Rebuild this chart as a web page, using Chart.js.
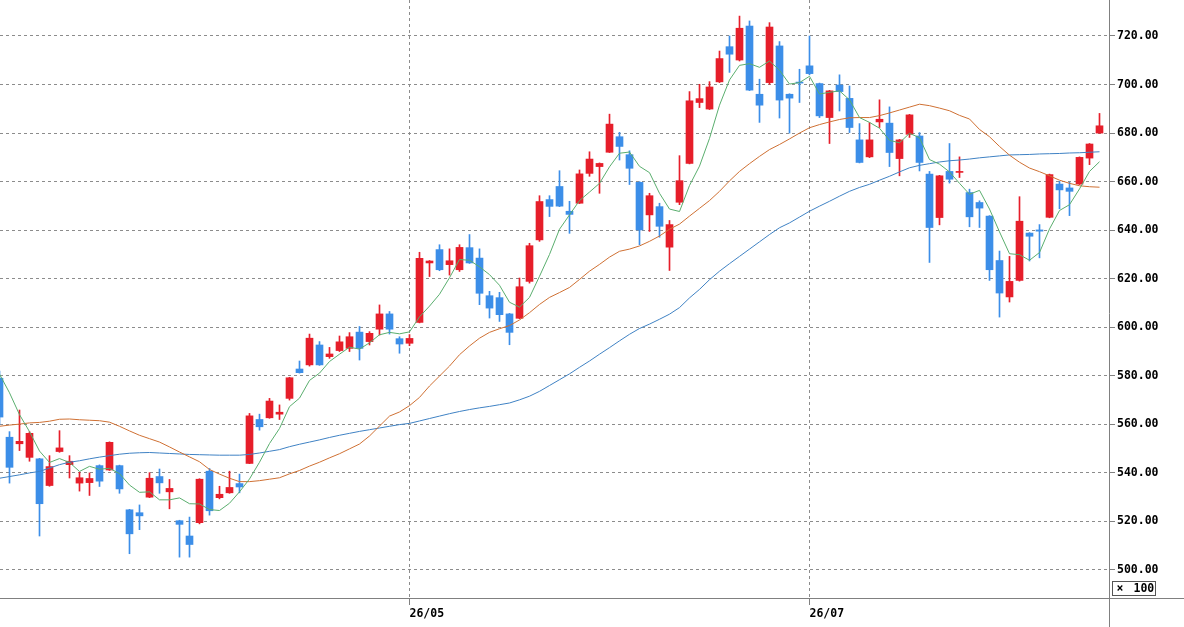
<!DOCTYPE html>
<html>
<head>
<meta charset="utf-8">
<script src="https://cdn.jsdelivr.net/npm/chart.js@4.4.1/dist/chart.umd.min.js"></script>
<style>
  html, body { margin: 0; padding: 0; background: #fff; }
  #wrap { width: 1184px; height: 627px; position: relative; }
</style>
</head>
<body>
<div id="wrap"><canvas id="chart"></canvas></div>
<script>
// daily candles, oldest first
const opens = [
  579, 554.7, 552, 546.4, 545.8, 534.8, 548.8, 543.4, 535.8, 536,
  543, 541.2, 543, 524.8, 523.6, 530, 538.5, 532.2, 520.3, 514,
  519.5, 540.7, 529.8, 531.8, 535.6, 543.9, 562, 562.7, 564.2, 570.7,
  582.8, 584.5, 592.7, 587.9, 590.4, 591.3, 598, 594.1, 599.2, 605.5,
  595.3, 593.4, 602, 626.5, 632, 625.8, 623.7, 632.8, 628.5, 613,
  612.2, 605.5, 603.7, 618.9, 636, 652.6, 658, 647.8, 651.1, 663.4,
  666.2, 672.1, 678.5, 671.1, 659.7, 646.3, 649.7, 633, 651.5, 667.5,
  692.6, 689.9, 701.1, 715.6, 710.1, 724.1, 696, 700.8, 715.9, 696,
  701, 707.7, 700.4, 686.4, 699.8, 694.3, 677.2, 670.2, 684.6, 684.1,
  669.5, 679.5, 678.8, 663.1, 645.2, 664.2, 663.8, 655.5, 651.4, 645.8,
  627.5, 612.5, 619.3, 638.8, 640.1, 645.3, 659, 657.4, 659, 669.7,
  680
];
const highs = [
  582, 557, 565.9, 557, 546, 547.1, 557.4, 547.1, 540.3, 540,
  543.3, 552.8, 543.2, 525, 526.8, 540.1, 541.6, 537.3, 520.5, 521.8,
  537.6, 541.8, 534.5, 540.7, 539.5, 564.5, 564.2, 570.7, 568, 579.4,
  586.1, 597.2, 594.1, 591.7, 596.4, 597.8, 600.3, 598.2, 609.2, 606.5,
  596.1, 597, 630.9, 627.5, 634, 632.3, 634, 638.2, 632.3, 614.8,
  614.4, 605.7, 620.3, 634.6, 654.2, 654.2, 664.5, 651.9, 664.8, 672.3,
  667.7, 687.8, 680.3, 672.7, 660, 655.2, 651.1, 644, 670.7, 697.1,
  700.1, 701.2, 713.8, 720, 728.2, 726.2, 702.2, 725.5, 717.7, 696.2,
  706.3, 720, 700.6, 697.6, 704, 699.4, 683.9, 684.3, 693.7, 690.8,
  677.4, 687.7, 680.2, 664.2, 662.6, 675.7, 670.2, 656.9, 652.1, 646,
  631.4, 629.2, 653.8, 639, 642.3, 663.1, 660.1, 659.7, 670.2, 675.7,
  688.1
];
const lows = [
  560, 535.8, 549.2, 544.8, 514, 534.5, 548.5, 537.9, 532.5, 530.7,
  534.4, 541, 531.6, 506.7, 516.6, 529.8, 531.6, 525.2, 505.3, 505.3,
  519, 522.6, 529.3, 531.6, 531.8, 543.8, 557.6, 562.5, 562, 570,
  581.1, 584, 584.3, 587.2, 590, 590, 586.5, 592.7, 596.8, 597.2,
  589.3, 592.4, 601.8, 620.9, 623.3, 621.5, 623, 626.3, 609.3, 603.8,
  602.4, 592.8, 603.5, 618.2, 635.4, 645.6, 649.7, 638.7, 651, 662.2,
  655.2, 672, 668.9, 658.8, 634, 639.5, 637.1, 623.4, 650.5, 667.3,
  690.5, 689.7, 700.8, 705, 709.7, 697.5, 684.4, 700.1, 686.2, 680,
  692.6, 704, 686.4, 675.7, 689.1, 680.2, 667.7, 669.9, 682.3, 666.2,
  662.4, 678.2, 664.4, 626.7, 642.2, 659.4, 661.7, 641.4, 641.1, 619.3,
  604.2, 610.4, 619, 627.3, 628.6, 645.1, 648.8, 646, 658.8, 667,
  679.9
];
const closes = [
  563, 542.3, 553, 556.3, 527.3, 542.6, 550.3, 544.8, 538, 537.7,
  536.6, 552.6, 533.4, 514.9, 522.3, 537.8, 535.9, 533.6, 518.8, 510.5,
  537.4, 524.4, 531.2, 534, 534.2, 563.5, 559, 569.6, 565, 579.2,
  581.3, 595.5, 584.5, 589, 594, 596.1, 591.3, 597.5, 605.5, 599.2,
  593.1, 595.4, 628.4, 627.3, 623.7, 627.4, 632.9, 626.5, 614, 607.9,
  605.2, 597.9, 616.7, 633.6, 651.8, 649.8, 649.9, 646.5, 663.2, 669.3,
  667.5, 683.7, 674.5, 665.5, 640.1, 654.2, 641.6, 642.3, 660.4, 693.3,
  694.2, 699, 710.7, 712.5, 723.2, 697.7, 691.5, 723.7, 693.6, 694.4,
  700.6, 704.5, 687.1, 697.4, 697.1, 682.3, 667.9, 677.2, 685.7, 672,
  677.2, 687.5, 667.9, 641.1, 662.4, 661, 664.2, 645.5, 649.1, 623.7,
  614.1, 618.9, 643.7, 637.5, 639.6, 662.9, 656.6, 656, 670, 675.5,
  683
];

// moving averages
const ma5 = [
  580.7, 573, 564, 557, 549, 544.3, 545.9, 544.3, 540.6, 542.7,
  541.5, 541.9, 539.7, 535, 532, 532.2, 528.9, 528.9, 529.7, 527.3,
  527.2, 524.9, 524.5, 527.5, 532.2, 537.5, 544.4, 552.1, 558.3, 567.3,
  570.8, 578.1, 581.1, 585.9, 588.9, 591.8, 591, 593.6, 596.9, 597.9,
  597.3, 598.1, 604.3, 608.7, 613.6, 620.4, 627.9, 627.6, 624.9, 621.7,
  617.3, 610.3, 608.3, 612.3, 621, 630, 640.4, 646.3, 652.2, 655.7,
  659.3, 666.1, 671.7, 672.2, 666.3, 663.7, 655.2, 648.7, 647.7, 658.4,
  666.4, 677.8, 691.5, 701.9, 707.9, 708.6, 707.1, 709.7, 705.9, 700.2,
  700.8, 703.4, 696.1, 696.8, 697.4, 693.7, 686.4, 684.4, 682, 677,
  676, 679.9, 678.1, 669.1, 667.2, 664, 659.3, 654.8, 656.4, 648.7,
  639.3, 630.3, 629.9, 627.6, 630.8, 640.5, 648.1, 650.5, 657, 664.2,
  668.2
];
const ma25 = [
  559.2, 559.7, 560.1, 560.6, 560.8, 561.3, 562.1, 562.2, 561.9, 561.7,
  561.5, 560.9, 559.2, 557.3, 555.5, 554.1, 552.7, 550.7, 548.6, 546.6,
  544.6, 541.4, 539.5, 537.8, 536.4, 536.4, 536.8, 537.4, 538, 539.6,
  541, 542.8, 544.4, 546.2, 547.9, 549.9, 551.9, 555.2, 559.3, 563.4,
  565.1, 567.7, 571.1, 575.8, 579.9, 584, 588.7, 592.3, 595.5, 597.9,
  599.4, 600.7, 603, 606, 609.4, 612.3, 614.3, 616.4, 619.7, 623.1,
  625.9, 628.9, 631.3, 632.2, 633.5, 635.4, 637.6, 640.4, 642.5, 645.8,
  649, 652.2, 656, 660.3, 664.2, 667.4, 670.4, 673.2, 675.3, 677.6,
  680, 682.2, 683.5, 684.6, 685.6, 686.3, 686.4, 686.4, 687.2, 688.3,
  689.5, 690.7, 691.9, 691.3, 690.3, 689.2, 687.3, 685.8, 681.5, 678.5,
  674.5, 670.9, 668, 665.6, 664.1, 662.4, 660.6, 659.3, 658.3, 657.9,
  657.7
];
const ma75 = [
  537.8, 538.5, 539.2, 540, 540.6, 542, 543.4, 544.4, 545, 545.8,
  546.5, 547.1, 547.7, 548.1, 548.3, 548.4, 548.2, 548, 547.8, 547.6,
  547.5, 547.4, 547.3, 547.3, 547.3, 547.6, 548.2, 548.9, 549.6, 550.8,
  551.8, 552.7, 553.6, 554.6, 555.5, 556.3, 557.1, 557.8, 558.5, 559.2,
  559.9, 560.4, 561.4, 562.4, 563.4, 564.4, 565.3, 566.1, 566.8, 567.4,
  568.1, 568.8, 570.1, 571.6, 573.6, 576, 578.4, 580.8, 583.5, 586.1,
  588.9, 591.6, 594.4, 597.1, 599.5, 601.3, 603.3, 605.4, 608.1, 612.1,
  615.6, 619.6, 623.1, 626.2, 629.2, 632.2, 635.2, 638.2, 641, 643,
  645.4, 647.8, 649.9, 651.9, 654, 656, 657.6, 658.9, 660.6, 662.2,
  664, 665.7, 666.7, 667.4, 668.1, 668.6, 668.9, 669.3, 669.8, 670.2,
  670.6, 671, 671.1, 671.2, 671.4, 671.5, 671.6, 671.8, 671.9, 672.1,
  672.3
];

// axis ticks
const monthTickIndex = [41, 81];
const monthTickLabels = ["26/05", "26/07"];
const priceTicks = [500, 520, 540, 560, 580, 600, 620, 640, 660, 680, 700, 720];

const RED = "#e61e2a";
const BLUE = "#3c8ee8";
const GRID = "#8c8c8c";
const AXIS = "#808080";
const labelFont = { family: "'DejaVu Sans Mono', monospace", size: 11.5, weight: "bold" };

const candleColors = closes.map((c, i) => c >= opens[i] ? RED : BLUE);
const asPoints = arr => arr.map((v, i) => ({ x: i, y: v }));

// axis lines that run past the plot area, plus the "x 100" unit box
const axisFrame = {
  id: "axisFrame",
  afterDraw(chart) {
    const { ctx, chartArea, width, height } = chart;
    ctx.save();
    ctx.strokeStyle = AXIS;
    ctx.lineWidth = 1;
    ctx.beginPath();
    ctx.moveTo(chartArea.right + 0.5, 0);
    ctx.lineTo(chartArea.right + 0.5, height);
    ctx.moveTo(0, chartArea.bottom + 0.5);
    ctx.lineTo(width, chartArea.bottom + 0.5);
    ctx.stroke();

    const bx = chartArea.right + 3.5, by = chartArea.bottom - 16.5;
    ctx.strokeStyle = "#555";
    ctx.strokeRect(bx, by, 43, 14);
    ctx.fillStyle = "#000";
    ctx.font = "bold 11.5px 'DejaVu Sans Mono', monospace";
    ctx.textBaseline = "middle";
    ctx.textAlign = "left";
    ctx.fillText("\u00d7", bx + 4, by + 7.5);
    ctx.fillText("100", bx + 21, by + 7.5);
    ctx.restore();
  }
};

new Chart(document.getElementById("chart"), {
  type: "bar",
  data: {
    datasets: [
      { type: "line", label: "MA5", data: asPoints(ma5), borderColor: "#5aae6e",
        borderWidth: 1, pointRadius: 0, tension: 0, order: 0 },
      { type: "line", label: "MA25", data: asPoints(ma25), borderColor: "#cf7033",
        borderWidth: 1, pointRadius: 0, tension: 0, order: 0 },
      { type: "line", label: "MA75", data: asPoints(ma75), borderColor: "#3f82c4",
        borderWidth: 1, pointRadius: 0, tension: 0, order: 0 },
      { label: "body", data: opens.map((o, i) => ({ x: i, y: [o, closes[i]] })),
        backgroundColor: candleColors, barThickness: 7, grouped: false,
        minBarLength: 1, borderWidth: 0, order: 1 },
      { label: "wick", data: lows.map((l, i) => ({ x: i, y: [l, highs[i]] })),
        backgroundColor: candleColors, barThickness: 1, grouped: false,
        borderWidth: 0, order: 2 }
    ]
  },
  options: {
    responsive: true,
    maintainAspectRatio: false,
    animation: false,
    layout: { padding: 0 },
    plugins: { legend: { display: false }, tooltip: { enabled: false } },
    scales: {
      x: {
        type: "linear",
        min: 0.05,
        max: 110.95,
        offset: false,
        afterBuildTicks: s => { s.ticks = monthTickIndex.map(v => ({ value: v })); },
        afterFit: s => { s.height = 29; s.paddingLeft = 0; s.paddingRight = 0; },
        grid: { color: GRID, offset: false, tickLength: 7, tickColor: AXIS, tickBorderDash: [] },
        border: { display: false, dash: [3, 3] },
        ticks: {
          align: "start", padding: 2, color: "#000", font: labelFont,
          maxRotation: 0, autoSkip: false,
          callback: v => monthTickLabels[monthTickIndex.indexOf(v)]
        }
      },
      y: {
        position: "right",
        min: 488.46,
        max: 734.83,
        afterBuildTicks: s => { s.ticks = priceTicks.map(v => ({ value: v })); },
        afterFit: s => { s.width = 75; s.paddingTop = 0; s.paddingBottom = 0; },
        grid: { color: GRID, tickLength: 6, tickColor: AXIS, tickBorderDash: [] },
        border: { display: false, dash: [3, 3] },
        ticks: { padding: 2, color: "#000", font: labelFont, callback: v => v.toFixed(2) }
      }
    }
  },
  plugins: [axisFrame]
});
</script>
</body>
</html>
